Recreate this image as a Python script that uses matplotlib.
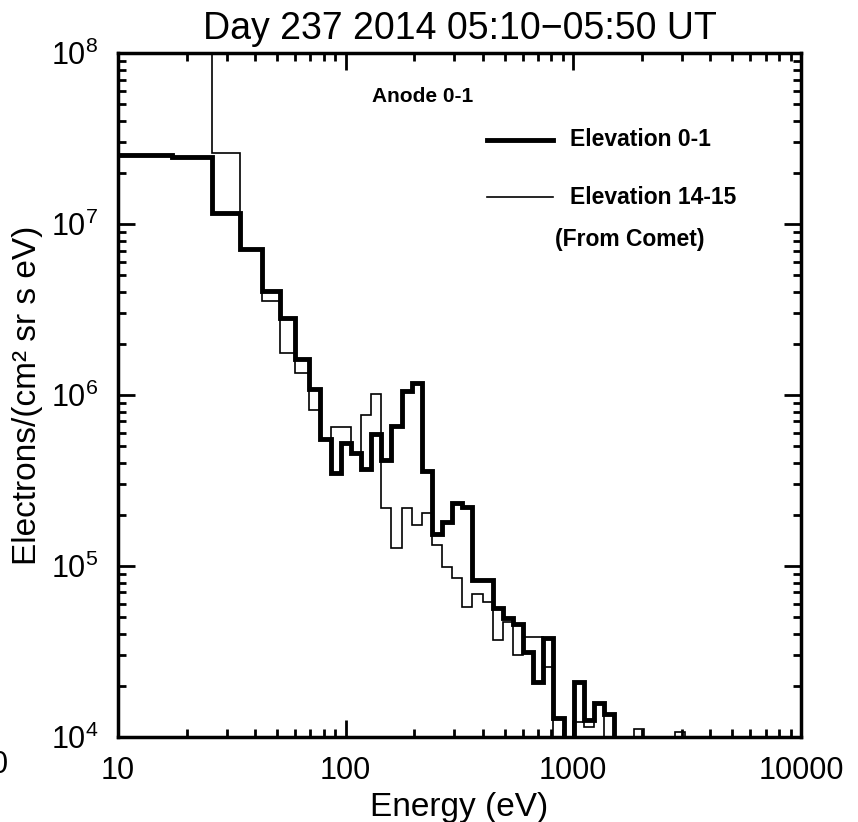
import matplotlib
matplotlib.use("Agg")
import matplotlib.pyplot as plt
from matplotlib.ticker import LogLocator, NullFormatter

plt.rcParams['font.family'] = ['Liberation Sans', 'DejaVu Sans']
plt.rcParams['mathtext.fontset'] = 'custom'
plt.rcParams['mathtext.rm'] = 'Liberation Sans'

# energy bin edges (eV)
edges = [8.6, 17.2, 25.8, 34.4, 43.0, 51.6, 60.2, 68.8, 77.4, 86.0,
         95.3, 105.5, 116.9, 129.5, 143.5, 158.9, 176.1, 195.0, 216.1, 239.4,
         265.2, 293.7, 325.4, 360.5, 399.3, 442.4, 490.1, 542.9, 601.4, 666.2,
         738.1, 817.6, 905.8, 1003, 1111, 1231, 1364, 1511, 1674, 1854,
         2054, 2276, 2521, 2793, 3094, 3428]

# Elevation 0-1 (thick)
elev01 = [2.53e7, 2.46e7, 1.155e7, 7.14e6, 4.08e6, 2.81e6, 1.635e6, 1.08e6, 5.51e5,
          3.48e5, 5.26e5, 4.56e5, 3.68e5, 5.92e5, 4.17e5, 6.59e5, 1.06e6, 1.17e6,
          3.61e5, 1.53e5, 1.82e5, 2.34e5, 2.21e5, 8.28e4, 8.28e4, 5.66e4, 4.95e4,
          4.58e4, 3.15e4, 2.11e4, 3.78e4, 1.30e4, 3e3, 2.11e4, 1.26e4, 1.59e4,
          1.36e4, 3e3, 3e3, 3e3, 3e3, 3e3, 3e3, 3e3, 3e3]

# Elevation 14-15 (thin, from comet)
elev1415 = [3e8, 3e8, 2.59e7, 7.14e6, 3.55e6, 1.75e6, 1.34e6, 8.17e5, 5.51e5,
            6.53e5, 6.53e5, 4.56e5, 7.64e5, 1.01e6, 2.17e5, 1.27e5, 2.17e5, 1.74e5,
            2.03e5, 1.33e5, 9.83e4, 8.47e4, 5.78e4, 6.86e4, 6.18e4, 3.69e4, 4.72e4,
            3.02e4, 3.87e4, 3.87e4, 2.56e4, 3e3, 3e3, 1.23e4, 1.15e4, 1.58e4,
            3e3, 3e3, 3e3, 1.12e4, 3e3, 3e3, 3e3, 1.07e4, 3e3]

xticks = [10, 100, 1000, 10000]
xticklabels = ['10', '100', '1000', '10000']

fig = plt.figure(figsize=(8.58, 8.22), dpi=100)
ax = fig.add_axes([0.1375, 0.1034, 0.796, 0.8321])

ax.stairs(elev1415, edges, baseline=None, color='black', lw=1.2)
ax.stairs(elev01, edges, baseline=None, color='black', lw=3.5)

ax.set_xscale('log')
ax.set_yscale('log')
ax.set_xlim(10, 10000)
ax.set_ylim(1e4, 1e8)

ax.set_xticks(xticks)
ax.set_xticklabels(xticklabels)
ax.xaxis.set_minor_locator(LogLocator(base=10, subs=range(2, 10)))
ax.xaxis.set_minor_formatter(NullFormatter())
ax.yaxis.set_minor_locator(LogLocator(base=10, subs=range(2, 10)))
ax.yaxis.set_minor_formatter(NullFormatter())

ax.tick_params(which='both', direction='in', top=True, right=True, width=2)
ax.tick_params(which='major', length=12, labelsize=22, pad=14)
ax.tick_params(which='minor', length=6)
for s in ax.spines.values():
    s.set_linewidth(2.5)

ax.set_title('Day 237 2014 05:10\u221205:50 UT', fontsize=27, pad=10)
ax.set_xlabel('Energy (eV)', fontsize=24, labelpad=4)
ax.set_ylabel('Electrons/(cm\u00b2 sr s eV)', fontsize=24, labelpad=6)

# legend drawn by hand
ax.text(0.372, 0.936, 'Anode 0-1', transform=ax.transAxes, fontsize=15,
        fontweight='bold', va='center')
ax.plot([0.540, 0.637], [0.873, 0.873], transform=ax.transAxes, color='black', lw=3.5)
ax.text(0.662, 0.873, 'Elevation 0-1', transform=ax.transAxes, fontsize=16.5,
        fontweight='bold', va='center')
ax.plot([0.540, 0.637], [0.789, 0.789], transform=ax.transAxes, color='black', lw=1.2)
ax.text(0.662, 0.789, 'Elevation 14-15', transform=ax.transAxes, fontsize=16.5,
        fontweight='bold', va='center')
ax.text(0.640, 0.727, '(From Comet)', transform=ax.transAxes, fontsize=16.5,
        fontweight='bold', va='center')

# clipped label from a neighbouring panel
fig.text(8 / 858, 1 - 765 / 822, '0', fontsize=22, ha='right', va='center')

fig.savefig('out.png', dpi=100)
